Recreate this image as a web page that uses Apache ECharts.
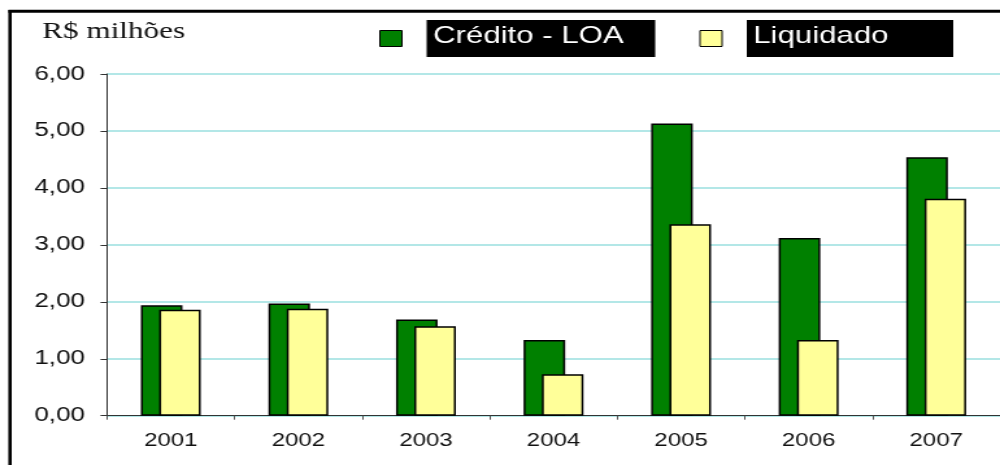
<!DOCTYPE html>
<html>
<head>
<meta charset="utf-8">
<script src="https://cdn.jsdelivr.net/npm/echarts@6/dist/echarts.min.js"></script>
<style>
html,body{margin:0;padding:0;background:#fff;overflow:hidden;}
#wrap{width:1000px;height:465px;overflow:hidden;position:relative;}
#main{width:770px;height:465px;transform:scaleX(1.2987);transform-origin:0 0;}
</style>
</head>
<body>
<div id="wrap"><div id="main"></div></div>
<script>
const categories = ['2001', '2002', '2003', '2004', '2005', '2006', '2007'];
const creditoLOA = [1.94, 1.97, 1.69, 1.33, 5.13, 3.12, 4.54];
const liquidado = [1.86, 1.88, 1.57, 0.73, 3.36, 1.33, 3.81];
const seriesNames = ['Crédito - LOA', 'Liquidado'];
const unitLabel = 'R$ milhões';

const chart = echarts.init(document.getElementById('main'), null, {renderer: 'canvas'});
const boxStyle = {
  backgroundColor: '#000', color: '#fff', fontFamily: 'Liberation Sans, Arial, sans-serif',
  fontSize: 24, lineHeight: 33, height: 33, padding: [0, 0, 4, 5]
};
chart.setOption({
  animation: false,
  backgroundColor: '#fff',
  title: {
    text: unitLabel, left: 32.5, top: 20, padding: 0,
    textStyle: {fontFamily: 'Liberation Serif, Times New Roman, serif', fontWeight: 'normal', fontSize: 24, color: '#111'}
  },
  legend: {
    data: seriesNames, left: 292, top: 20, padding: 0,
    icon: 'rect', itemWidth: 17, itemHeight: 16, itemGap: 34,
    itemStyle: {borderWidth: 1, borderColor: '#000'},
    formatter: function (name) {
      return name === seriesNames[0] ? '{s|}{a|' + name + '}' : '{s|}{b|' + name + '}';
    },
    textStyle: {
      rich: {
        s: {width: 14, height: 33},
        a: Object.assign({width: 171}, boxStyle),
        b: Object.assign({width: 154}, boxStyle)
      }
    }
  },
  grid: {left: 82.4, right: -6, top: 74, bottom: 49.3, containLabel: false},
  xAxis: {
    type: 'category', data: categories, boundaryGap: true,
    axisLine: {lineStyle: {color: '#333', width: 1}},
    axisTick: {show: true, interval: 0, length: 4, lineStyle: {color: '#555'}},
    axisLabel: {color: '#111', fontFamily: 'Liberation Sans, Arial, sans-serif', fontSize: 18.5, margin: 16}
  },
  yAxis: {
    type: 'value', min: 0, max: 6, interval: 1,
    axisLine: {show: true, lineStyle: {color: '#333', width: 1}},
    axisTick: {show: true, length: 5, lineStyle: {color: '#333'}},
    axisLabel: {
      color: '#111', fontFamily: 'Liberation Sans, Arial, sans-serif', fontSize: 20, margin: 17,
      formatter: function (v) { return v.toFixed(2).replace('.', ','); }
    },
    splitLine: {show: true, lineStyle: {color: '#9ADFDF', width: 1.5}}
  },
  series: [
    {
      name: seriesNames[0], type: 'bar', data: creditoLOA, barWidth: 32, barGap: '-56%',
      itemStyle: {color: '#008000', borderColor: '#000', borderWidth: 1.5}
    },
    {
      name: seriesNames[1], type: 'bar', data: liquidado, barWidth: 32,
      itemStyle: {color: '#FFFF99', borderColor: '#000', borderWidth: 1.5}
    }
  ],
  graphic: [
    {type: 'line', shape: {x1: 6.5, y1: 11.3, x2: 770, y2: 11.3}, style: {stroke: '#000', lineWidth: 3}},
    {type: 'line', shape: {x1: 7.7, y1: 10, x2: 7.7, y2: 465}, style: {stroke: '#000', lineWidth: 2.6}}
  ]
});
</script>
</body>
</html>
